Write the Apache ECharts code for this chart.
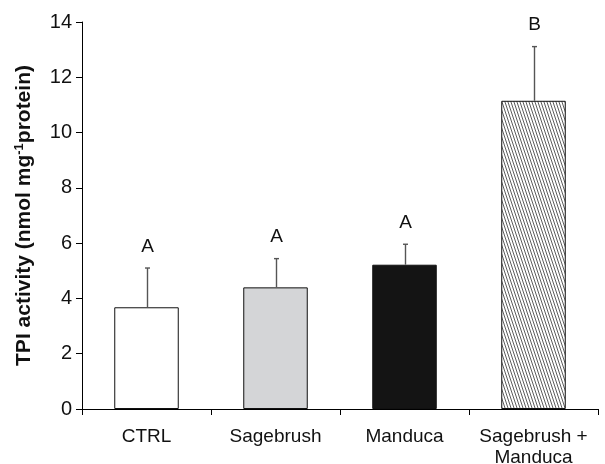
<!DOCTYPE html>
<html><head><meta charset="utf-8">
<script src="https://cdn.jsdelivr.net/npm/echarts@6/dist/echarts.min.js"></script>
<style>html,body{margin:0;padding:0;background:#fff}#c{width:605px;height:464px}</style>
</head><body><div id="c"></div>
<script>
const categories = ['CTRL', 'Sagebrush', 'Manduca', 'Sagebrush +\nManduca'];
const means = [3.68, 4.40, 5.22, 11.15];
const errorTops = [5.10, 5.44, 5.96, 13.11];
const letters = ['A', 'A', 'A', 'B'];
const yTicks = [0, 2, 4, 6, 8, 10, 12, 14];

// hatch pattern
const pc = document.createElement('canvas');
pc.width = 3; pc.height = 9;
const pctx = pc.getContext('2d');
pctx.fillStyle = '#fff'; pctx.fillRect(0, 0, 3, 9);
pctx.strokeStyle = '#333'; pctx.lineWidth = 0.8;
for (const dx of [-3, 0, 3]) {
  pctx.beginPath(); pctx.moveTo(dx, 0); pctx.lineTo(dx + 3, 9); pctx.stroke();
}
const fills = ['#ffffff', '#d4d5d7', '#141414', { image: pc, repeat: 'repeat' }];

const chart = echarts.init(document.getElementById('c'), null, { renderer: 'canvas' });
const FONT = 'Liberation Sans, Arial, sans-serif';
chart.setOption({
  animation: false,
  grid: { left: 82, right: 7, top: 22, bottom: 55, containLabel: false, outerBoundsMode: 'none' },
  xAxis: {
    type: 'category', data: categories, boundaryGap: true,
    axisLine: { lineStyle: { color: '#000', width: 1 } },
    axisTick: { show: true, interval: 0, length: 6, lineStyle: { color: '#000' } },
    axisLabel: { interval: 0, hideOverlap: false, color: '#111', fontFamily: FONT, fontSize: 19, margin: 17, lineHeight: 21 }
  },
  yAxis: {
    type: 'value', min: 0, max: 14, interval: 2,
    splitLine: { show: false },
    axisLine: { show: true, lineStyle: { color: '#000', width: 1 } },
    axisTick: { show: true, length: 6, lineStyle: { color: '#000' } },
    axisLabel: { color: '#111', fontFamily: FONT, fontSize: 20, margin: 10,
      formatter: v => yTicks.includes(v) ? String(v) : '' },
    name: '{b|TPI activity (nmol mg}{s|-1}{b|protein)}',
    nameLocation: 'middle', nameGap: 46, nameRotate: 90,
    nameTextStyle: {
      rich: {
        b: { fontFamily: FONT, fontSize: 21, fontWeight: 'bold', color: '#111' },
        s: { fontFamily: FONT, fontSize: 13, fontWeight: 'bold', color: '#111', verticalAlign: 'top', padding: [0, 0, 10, 0] }
      }
    }
  },
  series: [
    {
      type: 'bar', barWidth: '50%',
      data: means.map((v, i) => ({ value: v, itemStyle: { color: fills[i] } })),
      itemStyle: { borderColor: '#111', borderWidth: 1 }
    },
    {
      type: 'custom',
      data: means.map((v, i) => [i, v, errorTops[i]]),
      renderItem: (params, api) => {
        const p0 = api.coord([api.value(0), api.value(1)]);
        const p1 = api.coord([api.value(0), api.value(2)]);
        const x = Math.round(p0[0]) + 0.5;
        return {
          type: 'group', children: [
            { type: 'line', shape: { x1: x, y1: p0[1], x2: x, y2: p1[1] }, style: { stroke: '#555', lineWidth: 1.4 } },
            { type: 'line', shape: { x1: x - 2.5, y1: p1[1], x2: x + 2.5, y2: p1[1] }, style: { stroke: '#555', lineWidth: 1.4 } },
            { type: 'text', x: x, y: p1[1] - 12, style: { text: letters[params.dataIndex], fontFamily: FONT, fontSize: 19, fill: '#111', align: 'center', verticalAlign: 'bottom' } }
          ]
        };
      },
      z: 5
    }
  ]
});
</script></body></html>
